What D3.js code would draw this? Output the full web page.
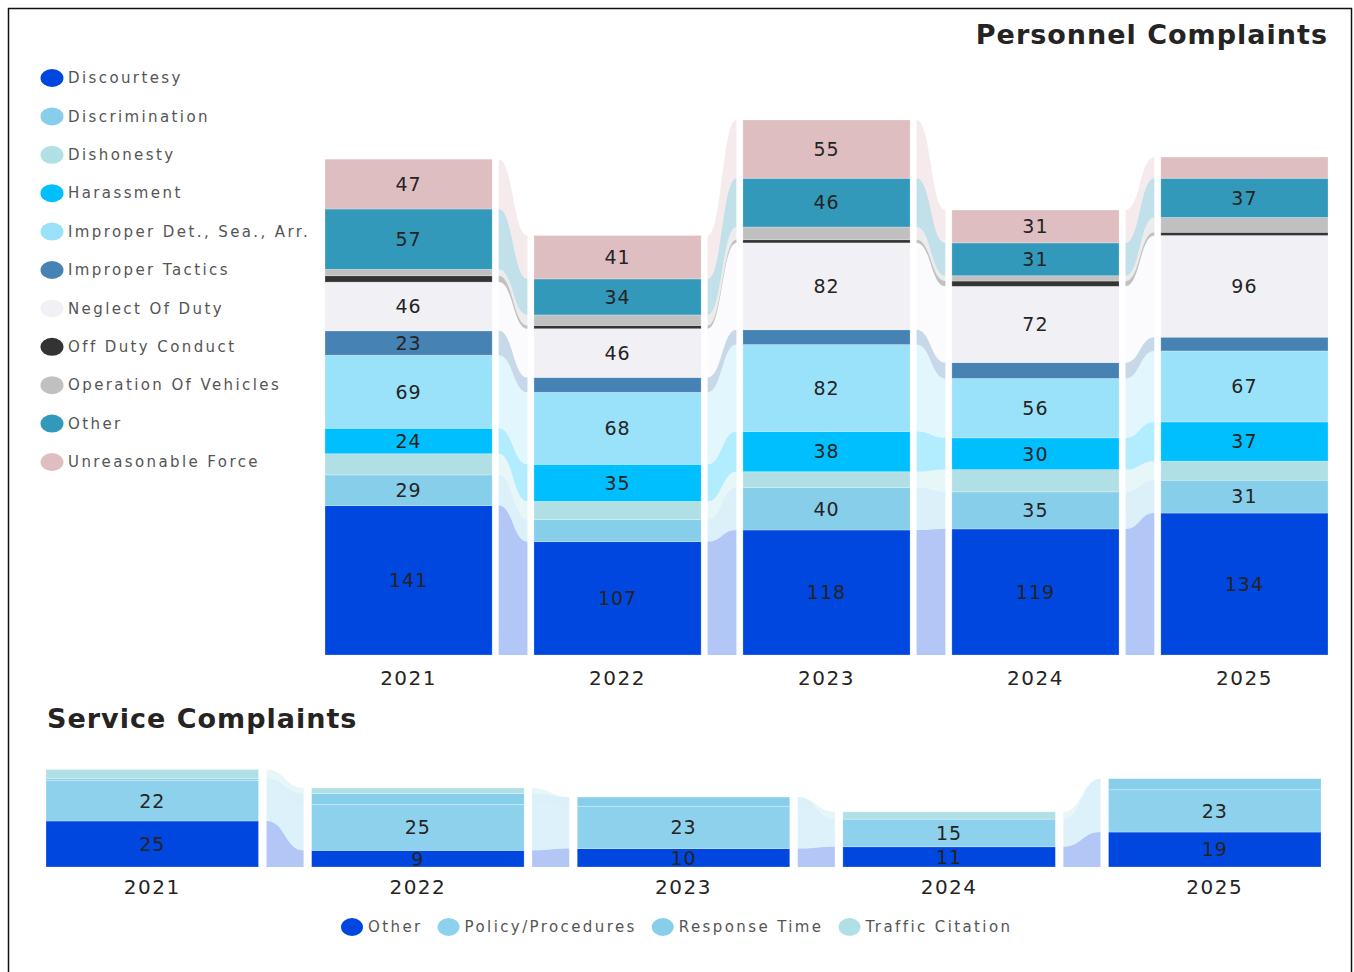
<!DOCTYPE html>
<html lang="en">
<head>
<meta charset="utf-8">
<title>Complaints</title>
<script src="https://cdn.jsdelivr.net/npm/d3@7"></script>
<style>
  body { margin: 0; background: #fff; }
  text { font-family: "DejaVu Sans", sans-serif; }
  .title { font-size: 27px; font-weight: bold; fill: #252423; letter-spacing: 1px; }
  .seglabel { font-size: 19px; fill: #252423; letter-spacing: 1px; }
  .yearlabel { font-size: 20px; fill: #252423; letter-spacing: 1.5px; }
  .legend text { font-size: 15px; fill: #555; letter-spacing: 2.4px; }
</style>
</head>
<body>
<script>
var w = 1354;
var h = 972;

// personnel complaints, years and series
var years = ["2021", "2022", "2023", "2024", "2025"];
var personnelKeys = ["Discourtesy", "Discrimination", "Dishonesty", "Harassment", "Improper Det., Sea., Arr.",
  "Improper Tactics", "Neglect Of Duty", "Off Duty Conduct", "Operation Of Vehicles", "Other", "Unreasonable Force"];
var personnelColors = ["#0047e0", "#87ceeb", "#b0e0e6", "#00bfff", "#9ae2fa",
  "#4682b4", "#f1f0f5", "#333333", "#c0c0c0", "#3399ba", "#dfbec1"];

var discourtesy = [141, 107, 118, 119, 134];
var discrimination = [29, 21, 40, 35, 31];
var dishonesty = [20, 17, 15, 21, 18];
var harassment = [24, 35, 38, 30, 37];
var improperDet = [69, 68, 82, 56, 67];
var improperTactics = [23, 14, 14, 15, 13];
var neglectOfDuty = [46, 46, 82, 72, 96];
var offDutyConduct = [6, 3, 3, 5, 3];
var operationOfVehicles = [6, 10, 12, 5, 14];
var otherPersonnel = [57, 34, 46, 31, 37];
var unreasonableForce = [47, 41, 55, 31, 20];

// service complaints
var serviceKeys = ["Other", "Policy/Procedures", "Response Time", "Traffic Citation"];
var serviceColors = ["#0047e0", "#8dd1ed", "#87ceeb", "#b0e0e6"];
var serviceOther = [25, 9, 10, 11, 19];
var policyProcedures = [22, 25, 23, 15, 23];
var responseTime = [1, 6, 5, 0, 6];
var trafficCitation = [5, 3, 0, 4, 0];

var personnelSeries = [discourtesy, discrimination, dishonesty, harassment, improperDet, improperTactics,
  neglectOfDuty, offDutyConduct, operationOfVehicles, otherPersonnel, unreasonableForce];
var serviceSeries = [serviceOther, policyProcedures, responseTime, trafficCitation];

function makeRows(keys, series) {
  return years.map(function(yr, i) {
    var row = { year: yr };
    keys.forEach(function(k, j) { row[k] = series[j][i]; });
    return row;
  });
}

var svg = d3.select("body")
  .append("svg")
  .attr("width", w)
  .attr("height", h);

svg.append("rect")
  .attr("x", 8.5).attr("y", 8.5)
  .attr("width", 1343).attr("height", 980)
  .attr("fill", "none")
  .attr("stroke", "#111")
  .attr("stroke-width", 1.5);

// draws a ribbon chart: stacked bars joined by translucent ribbons
function ribbonChart(opt) {
  var rows = makeRows(opt.keys, opt.series);
  var stacked = d3.stack().keys(opt.keys)(rows);
  var color = d3.scaleOrdinal().domain(opt.keys).range(opt.colors);

  var x = d3.scaleBand()
    .domain(years)
    .range(opt.xRange)
    .paddingInner(0.2);

  var y = d3.scaleLinear()
    .domain([0, opt.yMax])
    .range([opt.baseline, opt.top]);

  var g = svg.append("g");
  var bw = x.bandwidth();

  function ribbon(d, i) {
    var x0 = x(years[i]) + bw + opt.gap;
    var x1 = x(years[i + 1]) - opt.gap;
    var xm = (x0 + x1) / 2;
    var t0 = y(d[i][1]), b0 = y(d[i][0]);
    var t1 = y(d[i + 1][1]), b1 = y(d[i + 1][0]);
    return "M" + x0 + "," + t0 + "C" + xm + "," + t0 + " " + xm + "," + t1 + " " + x1 + "," + t1 +
      "L" + x1 + "," + b1 + "C" + xm + "," + b1 + " " + xm + "," + b0 + " " + x0 + "," + b0 + "Z";
  }

  stacked.forEach(function(s) {
    for (var i = 0; i < years.length - 1; i++) {
      g.append("path")
        .attr("d", ribbon(s, i))
        .attr("fill", color(s.key))
        .attr("fill-opacity", 0.3);
    }
  });

  var layer = g.selectAll("g.layer")
    .data(stacked)
    .enter()
    .append("g")
    .attr("class", "layer")
    .attr("fill", function(d) { return color(d.key); });

  layer.selectAll("rect")
    .data(function(d) { return d; })
    .enter()
    .append("rect")
    .attr("x", function(d) { return x(d.data.year); })
    .attr("y", function(d) { return y(d[1]); })
    .attr("width", bw)
    .attr("height", function(d) { return y(d[0]) - y(d[1]); })
    .attr("stroke", "#fff")
    .attr("stroke-opacity", 0.3)
    .attr("stroke-width", 0.8);

  layer.selectAll("text")
    .data(function(d) { return d.filter(function(e) { return e[1] - e[0] >= opt.minLabel; }); })
    .enter()
    .append("text")
    .attr("class", "seglabel")
    .attr("x", function(d) { return x(d.data.year) + bw / 2; })
    .attr("y", function(d) { return (y(d[0]) + y(d[1])) / 2; })
    .attr("dy", "0.36em")
    .attr("text-anchor", "middle")
    .text(function(d) { return d[1] - d[0]; });

  var xAxis = d3.axisBottom(x).tickSize(0).tickPadding(opt.tickPad);
  var ax = g.append("g")
    .attr("transform", "translate(0," + opt.baseline + ")")
    .call(xAxis);
  ax.select(".domain").remove();
  ax.selectAll("text")
    .attr("class", "yearlabel")
    .attr("font-family", null)
    .attr("font-size", null)
    .attr("fill", null);
}

ribbonChart({
  keys: personnelKeys, colors: personnelColors, series: personnelSeries,
  xRange: [325, 1328], baseline: 655, top: 120, yMax: 505,
  gap: 6.5, minLabel: 22, tickPad: 16
});

ribbonChart({
  keys: serviceKeys, colors: serviceColors, series: serviceSeries,
  xRange: [46, 1321], baseline: 867, top: 769.5, yMax: 53,
  gap: 8, minLabel: 9, tickPad: 13
});

svg.append("text")
  .attr("class", "title")
  .attr("x", 1328).attr("y", 44)
  .attr("text-anchor", "end")
  .text("Personnel Complaints");

svg.append("text")
  .attr("class", "title")
  .attr("x", 47).attr("y", 728)
  .text("Service Complaints");

// left legend for personnel complaints
var legTop = svg.append("g").attr("class", "legend");
var legItem = legTop.selectAll("g")
  .data(personnelKeys)
  .enter()
  .append("g")
  .attr("transform", function(d, i) { return "translate(52," + (78 + i * 38.4) + ")"; });
legItem.append("ellipse")
  .attr("rx", 11.5).attr("ry", 9)
  .attr("fill", function(d, i) { return personnelColors[i]; });
legItem.append("text")
  .attr("x", 16)
  .attr("dy", "0.35em")
  .text(function(d) { return d; });

// bottom legend for service complaints, laid out from text widths
var legBot = svg.append("g").attr("class", "legend");
var cx = 352;
serviceKeys.forEach(function(k, i) {
  legBot.append("ellipse")
    .attr("cx", cx).attr("cy", 927)
    .attr("rx", 11).attr("ry", 9)
    .attr("fill", serviceColors[i]);
  var t = legBot.append("text")
    .attr("x", cx + 16).attr("y", 927)
    .attr("dy", "0.35em")
    .text(k);
  cx = cx + 16 + t.node().getComputedTextLength() + 26;
});
</script>
</body>
</html>
